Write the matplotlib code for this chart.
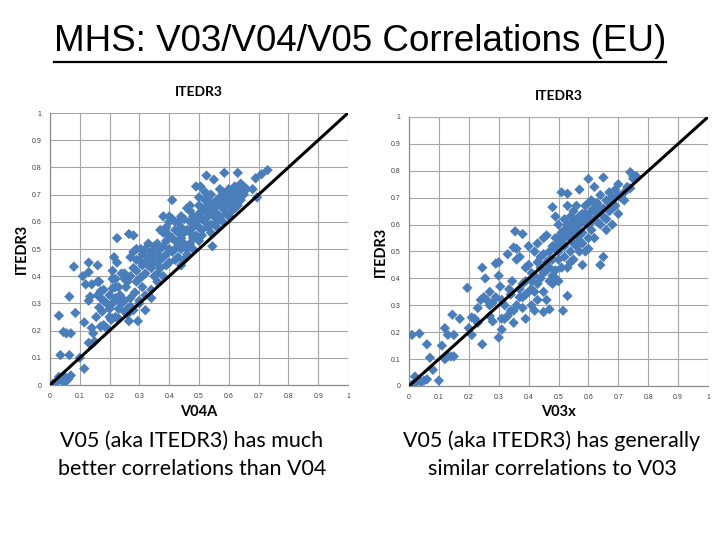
import matplotlib
matplotlib.use("Agg")
import matplotlib.pyplot as plt
from matplotlib.lines import Line2D
import numpy as np

title = "MHS: V03/V04/V05 Correlations (EU)"
chart_title = "ITEDR3"
left_xlabel = "V04A"
right_xlabel = "V03x"
ylabel = "ITEDR3"
left_caption = "V05 (aka ITEDR3) has much\nbetter correlations than V04"
right_caption = "V05 (aka ITEDR3) has generally\nsimilar correlations to V03"
ticks = [0, 0.1, 0.2, 0.3, 0.4, 0.5, 0.6, 0.7, 0.8, 0.9, 1]
tick_labels = ["0", "0.1", "0.2", "0.3", "0.4", "0.5", "0.6", "0.7", "0.8", "0.9", "1"]
diag = [0, 1]

v04a_pts = [
    (0.01, 0.005), (0.02, 0.01), (0.03, 0.02), (0.04, 0.015), (0.05, 0.03), (0.06, 0.02),
    (0.05, 0.01), (0.07, 0.035), (0.03, 0.03), (0.115, 0.06), (0.1, 0.1), (0.035, 0.11),
    (0.065, 0.11), (0.045, 0.195), (0.055, 0.19), (0.07, 0.19), (0.03, 0.255), (0.085, 0.265),
    (0.065, 0.325), (0.08, 0.435), (0.11, 0.4), (0.13, 0.45), (0.13, 0.415), (0.16, 0.44),
    (0.115, 0.23), (0.13, 0.155), (0.14, 0.15), (0.15, 0.16), (0.145, 0.19), (0.14, 0.21),
    (0.155, 0.25), (0.13, 0.31), (0.135, 0.325), (0.12, 0.37), (0.14, 0.37), (0.16, 0.38),
    (0.165, 0.38), (0.16, 0.33), (0.17, 0.32), (0.17, 0.345), (0.18, 0.35), (0.165, 0.285),
    (0.175, 0.27), (0.17, 0.215), (0.18, 0.22), (0.19, 0.21), (0.2, 0.25), (0.205, 0.24),
    (0.21, 0.245), (0.22, 0.25), (0.23, 0.245), (0.21, 0.3), (0.21, 0.355), (0.22, 0.36),
    (0.21, 0.39), (0.21, 0.42), (0.215, 0.47), (0.225, 0.45), (0.225, 0.54), (0.22, 0.32),
    (0.23, 0.31), (0.235, 0.33), (0.24, 0.3), (0.25, 0.31), (0.24, 0.41), (0.25, 0.39),
    (0.26, 0.38), (0.255, 0.36), (0.26, 0.28), (0.27, 0.29), (0.265, 0.235), (0.28, 0.275),
    (0.265, 0.555), (0.28, 0.55), (0.27, 0.47), (0.28, 0.49), (0.29, 0.5), (0.28, 0.43),
    (0.29, 0.42), (0.27, 0.32), (0.285, 0.34), (0.295, 0.235), (0.3, 0.3), (0.3, 0.31),
    (0.31, 0.36), (0.32, 0.33), (0.32, 0.275), (0.34, 0.32), (0.34, 0.35), (0.3, 0.39),
    (0.31, 0.4), (0.32, 0.41), (0.3, 0.46), (0.31, 0.48), (0.305, 0.5), (0.32, 0.5),
    (0.33, 0.47), (0.33, 0.52), (0.34, 0.49), (0.35, 0.48), (0.35, 0.51), (0.36, 0.52),
    (0.36, 0.45), (0.35, 0.4), (0.36, 0.41), (0.37, 0.43), (0.38, 0.4), (0.37, 0.46),
    (0.38, 0.47), (0.39, 0.48), (0.37, 0.5), (0.38, 0.51), (0.38, 0.56), (0.37, 0.57),
    (0.39, 0.58), (0.38, 0.62), (0.4, 0.6), (0.4, 0.62), (0.41, 0.61), (0.41, 0.68),
    (0.4, 0.55), (0.41, 0.54), (0.42, 0.57), (0.4, 0.5), (0.41, 0.49), (0.42, 0.5),
    (0.4, 0.45), (0.42, 0.46), (0.43, 0.47), (0.43, 0.52), (0.43, 0.6), (0.44, 0.62),
    (0.44, 0.58), (0.45, 0.56), (0.45, 0.61), (0.46, 0.65), (0.47, 0.66), (0.46, 0.57),
    (0.47, 0.6), (0.48, 0.62), (0.46, 0.5), (0.47, 0.52), (0.48, 0.54), (0.46, 0.48),
    (0.49, 0.55), (0.49, 0.6), (0.5, 0.63), (0.5, 0.66), (0.49, 0.73), (0.505, 0.73),
    (0.5, 0.58), (0.5, 0.53), (0.51, 0.55), (0.51, 0.57), (0.52, 0.6), (0.52, 0.64),
    (0.52, 0.68), (0.525, 0.77), (0.53, 0.66), (0.53, 0.62), (0.54, 0.59), (0.54, 0.56),
    (0.545, 0.51), (0.54, 0.64), (0.55, 0.67), (0.55, 0.755), (0.56, 0.63), (0.56, 0.6),
    (0.56, 0.58), (0.57, 0.62), (0.57, 0.66), (0.57, 0.69), (0.58, 0.65), (0.58, 0.6),
    (0.58, 0.68), (0.585, 0.78), (0.59, 0.7), (0.59, 0.63), (0.6, 0.66), (0.6, 0.72),
    (0.6, 0.69), (0.61, 0.67), (0.61, 0.71), (0.62, 0.73), (0.62, 0.68), (0.62, 0.65),
    (0.63, 0.7), (0.63, 0.78), (0.63, 0.72), (0.64, 0.74), (0.64, 0.71), (0.65, 0.73),
    (0.65, 0.7), (0.66, 0.72), (0.68, 0.72), (0.69, 0.76), (0.695, 0.69), (0.71, 0.775),
    (0.73, 0.79), (0.51, 0.61), (0.53, 0.69), (0.54, 0.7), (0.44, 0.44), (0.45, 0.46),
    (0.39, 0.44), (0.36, 0.38), (0.33, 0.44), (0.34, 0.43), (0.29, 0.38), (0.27, 0.4),
    (0.23, 0.28), (0.25, 0.27), (0.26, 0.26), (0.19, 0.3), (0.2, 0.28), (0.22, 0.39),
    (0.43, 0.56), (0.48, 0.58), (0.47, 0.64), (0.55, 0.62), (0.59, 0.66), (0.61, 0.64),
    (0.64, 0.68), (0.53, 0.58), (0.48, 0.5), (0.45, 0.52), (0.42, 0.53), (0.39, 0.53),
    (0.35, 0.45), (0.32, 0.45), (0.44, 0.5), (0.5, 0.69), (0.57, 0.72), (0.6, 0.62),
    (0.51, 0.65), (0.52, 0.71), (0.54, 0.67), (0.55, 0.65), (0.56, 0.68), (0.58, 0.71),
    (0.59, 0.68), (0.61, 0.69), (0.62, 0.71), (0.63, 0.66), (0.53, 0.64), (0.5, 0.61),
    (0.47, 0.56), (0.44, 0.54), (0.42, 0.6), (0.39, 0.56), (0.36, 0.48), (0.34, 0.46),
    (0.31, 0.44), (0.29, 0.46), (0.25, 0.41), (0.23, 0.36), (0.2, 0.33), (0.18, 0.31),
]
v03x_pts = [
    (0.01, 0.005), (0.02, 0.01), (0.03, 0.02), (0.04, 0.015), (0.02, 0.035), (0.05, 0.02),
    (0.06, 0.025), (0.1, 0.02), (0.08, 0.06), (0.07, 0.105), (0.06, 0.155), (0.01, 0.19),
    (0.035, 0.195), (0.11, 0.15), (0.12, 0.1), (0.13, 0.11), (0.14, 0.11), (0.15, 0.11),
    (0.12, 0.215), (0.13, 0.19), (0.15, 0.19), (0.145, 0.265), (0.17, 0.25), (0.195, 0.365),
    (0.2, 0.215), (0.21, 0.19), (0.21, 0.255), (0.22, 0.25), (0.23, 0.235), (0.245, 0.155),
    (0.23, 0.29), (0.24, 0.32), (0.25, 0.33), (0.245, 0.44), (0.255, 0.4), (0.26, 0.32),
    (0.27, 0.35), (0.27, 0.3), (0.28, 0.31), (0.27, 0.26), (0.28, 0.24), (0.29, 0.33),
    (0.29, 0.455), (0.3, 0.46), (0.3, 0.41), (0.305, 0.37), (0.31, 0.32), (0.3, 0.18),
    (0.31, 0.21), (0.32, 0.25), (0.32, 0.3), (0.33, 0.26), (0.33, 0.49), (0.335, 0.36),
    (0.34, 0.34), (0.345, 0.39), (0.35, 0.28), (0.35, 0.235), (0.355, 0.575), (0.35, 0.515),
    (0.36, 0.51), (0.36, 0.47), (0.37, 0.48), (0.36, 0.3), (0.37, 0.33), (0.38, 0.38),
    (0.38, 0.565), (0.38, 0.33), (0.39, 0.25), (0.39, 0.44), (0.4, 0.52), (0.4, 0.45),
    (0.41, 0.42), (0.41, 0.36), (0.41, 0.3), (0.42, 0.28), (0.42, 0.5), (0.42, 0.35),
    (0.43, 0.53), (0.43, 0.32), (0.44, 0.4), (0.44, 0.48), (0.45, 0.55), (0.45, 0.275),
    (0.46, 0.32), (0.46, 0.46), (0.46, 0.56), (0.47, 0.5), (0.47, 0.39), (0.47, 0.285),
    (0.48, 0.665), (0.48, 0.41), (0.48, 0.52), (0.49, 0.43), (0.49, 0.55), (0.49, 0.63),
    (0.5, 0.6), (0.5, 0.5), (0.5, 0.47), (0.5, 0.55), (0.51, 0.72), (0.51, 0.57),
    (0.51, 0.44), (0.515, 0.28), (0.52, 0.52), (0.52, 0.58), (0.52, 0.48), (0.53, 0.67),
    (0.53, 0.715), (0.53, 0.335), (0.53, 0.6), (0.54, 0.55), (0.54, 0.5), (0.54, 0.63),
    (0.55, 0.65), (0.55, 0.59), (0.55, 0.47), (0.56, 0.56), (0.56, 0.62), (0.56, 0.52),
    (0.57, 0.73), (0.57, 0.6), (0.57, 0.5), (0.58, 0.64), (0.58, 0.57), (0.58, 0.45),
    (0.59, 0.67), (0.59, 0.61), (0.6, 0.77), (0.6, 0.55), (0.6, 0.51), (0.61, 0.65),
    (0.61, 0.69), (0.61, 0.58), (0.62, 0.74), (0.62, 0.55), (0.62, 0.62), (0.63, 0.64),
    (0.63, 0.68), (0.64, 0.71), (0.64, 0.45), (0.64, 0.6), (0.65, 0.775), (0.65, 0.48),
    (0.65, 0.66), (0.66, 0.69), (0.66, 0.58), (0.67, 0.72), (0.67, 0.65), (0.68, 0.6),
    (0.68, 0.7), (0.69, 0.73), (0.69, 0.67), (0.7, 0.64), (0.7, 0.75), (0.71, 0.7),
    (0.72, 0.72), (0.73, 0.74), (0.74, 0.795), (0.75, 0.78), (0.75, 0.77), (0.74, 0.735),
    (0.76, 0.78), (0.72, 0.69), (0.56, 0.67), (0.53, 0.56), (0.51, 0.52), (0.47, 0.47),
    (0.44, 0.44), (0.42, 0.41), (0.39, 0.39), (0.37, 0.36), (0.43, 0.38), (0.48, 0.38),
    (0.49, 0.4), (0.46, 0.43), (0.57, 0.56), (0.58, 0.53), (0.6, 0.6), (0.59, 0.5),
    (0.66, 0.62), (0.62, 0.66), (0.54, 0.46), (0.55, 0.53), (0.5, 0.39), (0.53, 0.44),
    (0.45, 0.35), (0.4, 0.35), (0.38, 0.29), (0.34, 0.28), (0.31, 0.25), (0.52, 0.55),
    (0.55, 0.57), (0.57, 0.63), (0.59, 0.64), (0.63, 0.61), (0.5, 0.53), (0.48, 0.47),
    (0.45, 0.42), (0.52, 0.62), (0.54, 0.6), (0.6, 0.68), (0.67, 0.68), (0.7, 0.71),
    (0.51, 0.54), (0.53, 0.58), (0.55, 0.61), (0.56, 0.58), (0.57, 0.54), (0.58, 0.61),
    (0.6, 0.63), (0.61, 0.61), (0.62, 0.68), (0.64, 0.66), (0.65, 0.63), (0.68, 0.66),
    (0.49, 0.51), (0.47, 0.44), (0.45, 0.49), (0.43, 0.46), (0.41, 0.39), (0.39, 0.34),
]

BLUE = "#4a7ebb"
fig = plt.figure(figsize=(7.2, 5.4), dpi=100)
fig.patch.set_facecolor("white")

def draw(rect, pts, xlabel, ttl_pad):
    ax = fig.add_axes(rect)
    xs = [p[0] for p in pts]
    ys = [p[1] for p in pts]
    ax.set_xlim(0, 1)
    ax.set_ylim(0, 1)
    ax.set_xticks(ticks)
    ax.set_yticks(ticks)
    ax.set_xticklabels(tick_labels, fontsize=5, color="#404040", family="Liberation Sans")
    ax.set_yticklabels(tick_labels, fontsize=5, color="#404040", family="Liberation Sans")
    ax.tick_params(length=0, pad=6)
    ax.grid(True, color="#a6a6a6", lw=0.8)
    ax.set_axisbelow(True)
    for s in ["top", "right"]:
        ax.spines[s].set_visible(False)
    for s in ["left", "bottom"]:
        ax.spines[s].set_color("#8c8c8c")
        ax.spines[s].set_linewidth(0.9)
    ax.scatter(xs, ys, marker="D", s=28, color=BLUE, edgecolors="none", zorder=3)
    ax.plot(diag, diag, color="black", lw=2.2, zorder=4, solid_capstyle="butt")
    ax.set_xlabel(xlabel, fontsize=10.5, fontweight="bold", family="Lato", labelpad=3)
    ax.set_ylabel(ylabel, fontsize=10.5, fontweight="bold", family="Lato", labelpad=2)
    ax.set_title(chart_title, fontsize=10, fontweight="bold", family="Lato", pad=ttl_pad)
    return ax

draw([50/720, 1-385/540, 298/720, 272/540], v04a_pts, left_xlabel, 12)
draw([409/720, 1-386/540, 299/720, 269/540], v03x_pts, right_xlabel, 12)

t = fig.text(0.5, 1-42/540, title, ha="center", va="center", fontsize=26.5,
             family="Liberation Sans", color="black")
fig.canvas.draw()
bb = t.get_window_extent()
fig.add_artist(Line2D([bb.x0/720, bb.x1/720], [1-62/540, 1-62/540], color="black", lw=1.6,
                      transform=fig.transFigure))

fig.text(192/720, 1-455/540, left_caption, ha="center", va="center", fontsize=15.5,
         family="Lato", linespacing=1.5)
fig.text(552/720, 1-455/540, right_caption, ha="center", va="center", fontsize=15.5,
         family="Lato", linespacing=1.5)

fig.savefig("out.png", dpi=100, facecolor="white")
